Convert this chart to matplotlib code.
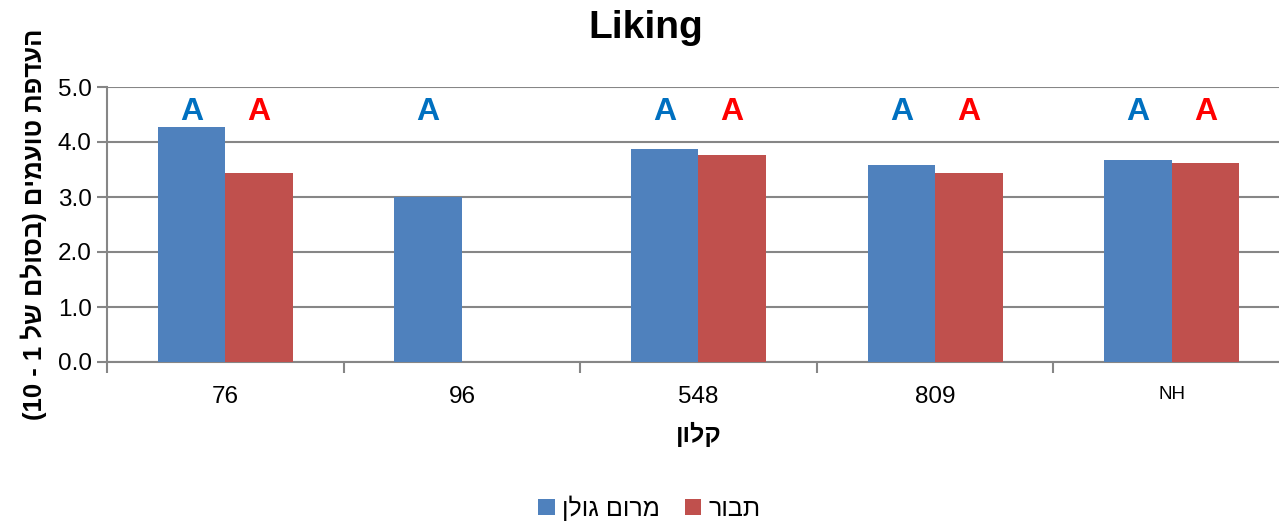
#!/usr/bin/env python3
import re

import matplotlib
matplotlib.use("Agg")
import matplotlib.pyplot as plt
import numpy as np

# ---------------------------------------------------------------------------
# Data
# ---------------------------------------------------------------------------

title = "Liking"
ylabel = "העדפת טועמים (בסולם של 1 - 10)"
xlabel = "קלון"

categories = ["76", "96", "548", "809", "NH"]
series_names = ["מרום גולן", "תבור"]

golan = [4.28, 3.00, 3.87, 3.59, 3.67]
tavor = [3.43, np.nan, 3.76, 3.44, 3.61]

golan_letters = ["A", "A", "A", "A", "A"]
tavor_letters = ["A", "", "A", "A", "A"]

BAR_COLORS = ["#4F81BD", "#C0504D"]
LETTER_COLORS = ["#0070C0", "#FF0000"]
GRID = "#868686"
FONTS = ["Liberation Sans", "DejaVu Sans"]
LETTER_Y = 4.55
BAR_W = 0.285


def rtl(s):
    """Visual order for Hebrew text (matplotlib has no bidi)."""
    s = s[::-1].translate(str.maketrans("()", ")("))
    return re.sub(r"\d+", lambda m: m.group(0)[::-1], s)


plt.rcParams["font.family"] = FONTS

fig = plt.figure(figsize=(12.79, 5.23), dpi=100)
ax = fig.add_axes([107 / 1279, 1 - 362 / 523, 1183 / 1279, 275 / 523])

x = np.arange(len(categories))
offsets = [-BAR_W / 2, BAR_W / 2]
for vals, letters, off, bc, lc, name in zip(
        [golan, tavor], [golan_letters, tavor_letters], offsets,
        BAR_COLORS, LETTER_COLORS, series_names):
    ax.bar(x + off, vals, width=BAR_W, color=bc, label=rtl(name), zorder=3)
    for xi, t in zip(x, letters):
        if t:
            ax.text(xi + off, LETTER_Y, t, color=lc, fontsize=23,
                    fontweight="bold", ha="center", va="center", zorder=4)

ax.set_xlim(-0.5, len(categories) - 0.5)
ax.set_ylim(0, 5)
ax.set_yticks(np.arange(0, 5.01, 1.0))
ax.set_yticklabels([f"{v:.1f}" for v in np.arange(0, 5.01, 1.0)])
ax.set_xticks(x)
ax.set_xticklabels(categories)
for lbl in ax.get_xticklabels():
    lbl.set_fontsize(13.5 if lbl.get_text() == "NH" else 17.5)
ax.set_xticks(np.arange(-0.5, len(categories) + 0.5), minor=True)

ax.yaxis.grid(True, color=GRID, lw=1.5, zorder=0)
ax.set_axisbelow(True)
for side in ["top", "right"]:
    ax.spines[side].set_visible(False)
for side in ["left", "bottom"]:
    ax.spines[side].set_color(GRID)
    ax.spines[side].set_linewidth(1.5)

ax.tick_params(axis="y", labelsize=17.5, length=7, width=1.5, color=GRID, pad=4)
ax.tick_params(axis="x", which="major", length=0, pad=17)
ax.tick_params(axis="x", which="minor", length=8, width=1.5, color=GRID)

ax.set_ylabel(rtl(ylabel), fontsize=18.5, fontweight="bold", labelpad=8)
ax.set_xlabel(rtl(xlabel), fontsize=18, fontweight="bold", labelpad=10)

fig.text(0.505, 1 - 28 / 523, title, fontsize=28, fontweight="bold",
         ha="center", va="center")

fig.legend(loc="center", bbox_to_anchor=(0.508, 1 - 508 / 523), ncol=2,
           frameon=False, fontsize=18, handlelength=0.65, handleheight=0.65,
           handletextpad=0.3, columnspacing=1.0)

fig.savefig("out.png", dpi=100)
